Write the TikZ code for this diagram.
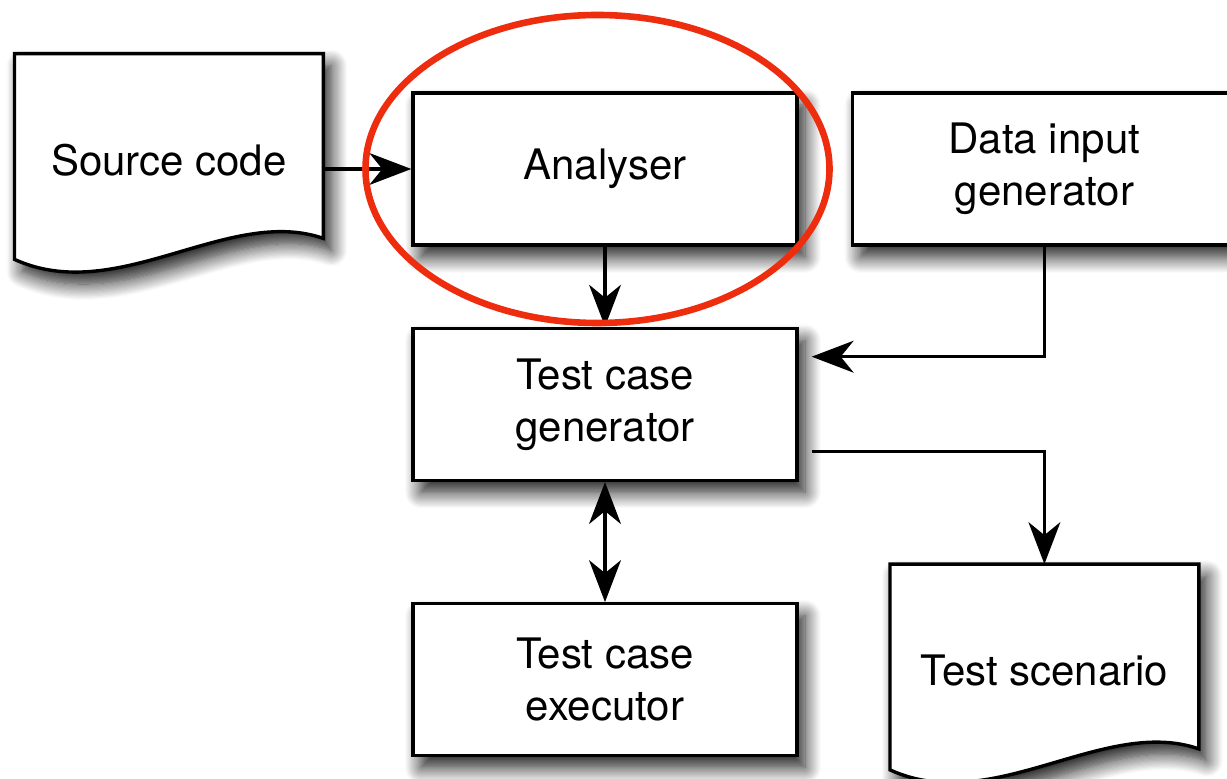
\documentclass[tikz,border=0pt]{standalone}
\usepackage{fontspec}
\setmainfont{TeX Gyre Heros}
\usetikzlibrary{positioning, arrows.meta, shadows.blur, backgrounds}

\definecolor{ringred}{RGB}{238,45,15}

% outline of a document shape with a wavy bottom, around a named node
\newcommand{\docoutline}[1]{(#1.north west) -- (#1.north east) -- ([yshift=14pt]#1.south east)
    .. controls +(-47.5pt,16.5pt) and +(51.5pt,-23.5pt) .. ([yshift=3.5pt]#1.south west) -- cycle}

\begin{document}
\begin{tikzpicture}[
    >={Stealth[length=21pt, width=16pt, inset=6.5pt, fill=black, line width=0.8pt]}, node distance=40pt,
    font=\fontsize{21pt}{26pt}\selectfont,
    softshadow/.style={blur shadow={shadow xshift=4pt, shadow yshift=-6pt, shadow blur radius=8pt, shadow blur steps=14, shadow opacity=90}},
    box/.style={draw, line width=1.7pt, fill=white, softshadow, minimum width=192pt, minimum height=76pt, align=center},
    docbox/.style={minimum width=154pt, minimum height=106pt, align=center},
    docline/.style={draw, line width=1.7pt, fill=white, softshadow},
    link/.style={->, line width=1.6pt},
    ring/.style={draw=ringred, line width=3.3pt}
]
    \useasboundingbox (0,0) rectangle (613.5pt,-389.5pt);

    \node[box]                              (ana) at (302.5pt,-84.5pt) {Analyser};
    \node[box, below=of ana]                (tcg) {Test case\\generator};
    \node[box, below=60pt of tcg]           (exe) {Test case\\executor};
    \node[box, right=26pt of ana]           (dig) {Data input\\generator};
    \node[docbox, left=44pt of ana, yshift=4.5pt] (src) {Source code};
    \node[docbox, anchor=north] (scn) at ([yshift=-41pt]tcg.south -| dig.south) {Test scenario};

    \begin{pgfonlayer}{background}
        \path[docline] \docoutline{src};
        \path[docline] \docoutline{scn};
    \end{pgfonlayer}

    \draw[link] (src.east |- ana.west) -- (ana.west);
    \draw[link] (ana) -- (tcg);
    \draw[link] (dig.south) |- ([xshift=6.5pt, yshift=-15pt]tcg.north east);
    \draw[link] ([xshift=6.5pt, yshift=-23.75pt]tcg.east) -| (scn.north);
    \draw[link, <->] (tcg) -- (exe);

    % highlight round the analyser
    \draw[ring] ([xshift=-3.75pt]ana.center) ellipse [x radius=116pt, y radius=77pt];
\end{tikzpicture}
\end{document}
